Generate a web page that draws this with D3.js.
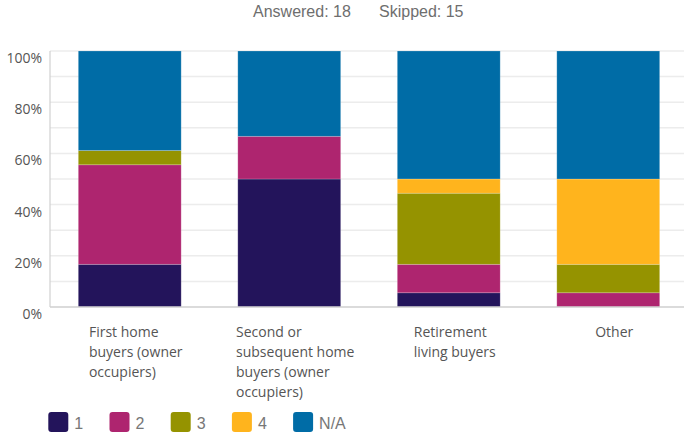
<!DOCTYPE html>
<html>
<head>
<meta charset="utf-8">
<script src="https://cdn.jsdelivr.net/npm/d3@7"></script>
<style>
  html, body { margin: 0; padding: 0; background: #fff; }
  svg { display: block; }
</style>
</head>
<body>
<svg id="chart" width="684" height="434"></svg>
<script>
// Categories (each label split into its display lines)
const categories = [
  "First home buyers (owner occupiers)",
  "Second or subsequent home buyers (owner occupiers)",
  "Retirement living buyers",
  "Other"
];
const categoryLines = [
  ["First home", "buyers (owner", "occupiers)"],
  ["Second or", "subsequent home", "buyers (owner", "occupiers)"],
  ["Retirement", "living buyers"],
  ["Other"]
];

// Rating series, percent of respondents per category
const seriesNames = ["1", "2", "3", "4", "N/A"];
const values1  = [16.67, 50.00,  5.56,  0.00];
const values2  = [38.89, 16.67, 11.11,  5.56];
const values3  = [ 5.56,  0.00, 27.78, 11.11];
const values4  = [ 0.00,  0.00,  5.56, 33.33];
const valuesNA = [38.89, 33.33, 50.00, 50.00];
const seriesColors = ["#23145b", "#ae256f", "#959300", "#ffb41d", "#006ca6"];

const yTicks = [0, 20, 40, 60, 80, 100];
const gridTicks = [0, 10, 20, 30, 40, 50, 60, 70, 80, 90, 100];
const headerText = ["Answered: 18", "Skipped: 15"];

// Build the table for d3.stack
const seriesValues = [values1, values2, values3, values4, valuesNA];
const table = categories.map((c, i) => {
  const row = { category: c };
  seriesNames.forEach((s, k) => { row[s] = seriesValues[k][i]; });
  return row;
});
const stacked = d3.stack().keys(seriesNames)(table);

const svg = d3.select("#chart");
const margin = { left: 50, right: -4, top: 51, bottom: 127 };
const W = 684, H = 434;

const x = d3.scaleBand()
  .domain(categories)
  .range([margin.left, W - margin.right])
  .paddingInner(0.355)
  .paddingOuter(0.1775);

const y = d3.scaleLinear()
  .domain([0, 100])
  .range([H - margin.bottom, margin.top]);

const sans = "'Open Sans', 'Noto Sans', sans-serif";
const arial = "'Liberation Sans', Arial, sans-serif";

// Header
const header = svg.append("text")
  .attr("y", 17)
  .attr("font-family", arial)
  .attr("font-size", 16)
  .attr("fill", "#6e6e6e");
header.append("tspan").attr("x", 253).text(headerText[0]);
header.append("tspan").attr("x", 379).text(headerText[1]);

// Grid lines
svg.append("g")
  .selectAll("line")
  .data(gridTicks.filter(d => d > 0))
  .join("line")
  .attr("x1", margin.left)
  .attr("x2", W)
  .attr("y1", d => y(d))
  .attr("y2", d => y(d))
  .attr("stroke", "#ececec")
  .attr("stroke-width", 1.5);

// Y tick labels
svg.append("g")
  .selectAll("text")
  .data(yTicks)
  .join("text")
  .attr("x", 42)
  .attr("y", d => y(d) + 12)
  .attr("text-anchor", "end")
  .attr("font-family", sans)
  .attr("font-size", 14)
  .attr("fill", "#555")
  .text(d => d + "%");

// Stacked bars
svg.append("g")
  .selectAll("g")
  .data(stacked)
  .join("g")
  .attr("fill", (d, i) => seriesColors[i])
  .selectAll("rect")
  .data(d => d.filter(p => p[1] - p[0] > 0))
  .join("rect")
  .attr("x", d => x(d.data.category))
  .attr("width", x.bandwidth())
  .attr("y", d => y(d[1]))
  .attr("height", d => y(d[0]) - y(d[1]))
  .attr("stroke", "rgba(255,255,255,0.25)")
  .attr("stroke-width", 0.8);

// Axes lines
svg.append("line")
  .attr("x1", margin.left).attr("x2", margin.left)
  .attr("y1", y(100)).attr("y2", y(0))
  .attr("stroke", "#d0d0d0").attr("stroke-width", 1.2);
svg.append("line")
  .attr("x1", margin.left).attr("x2", W)
  .attr("y1", y(0)).attr("y2", y(0))
  .attr("stroke", "#cfcfcf").attr("stroke-width", 1.5);

// Category labels: left-aligned text block centred under each bar
categories.forEach((c, i) => {
  const g = svg.append("text")
    .attr("font-family", sans)
    .attr("font-size", 14)
    .attr("fill", "#555");
  categoryLines[i].forEach((line, j) => {
    g.append("tspan").attr("y", 337 + j * 20).text(line);
  });
  const widths = [];
  g.selectAll("tspan").each(function () { widths.push(this.getComputedTextLength()); });
  const blockW = d3.max(widths);
  const left = x(c) + x.bandwidth() / 2 + 6 - blockW / 2;
  g.selectAll("tspan").attr("x", left);
});

// Legend
const legend = svg.append("g")
  .selectAll("g")
  .data(seriesNames)
  .join("g")
  .attr("transform", (d, i) => `translate(${48.3 + i * 61.2},412)`);
legend.append("rect")
  .attr("width", 20)
  .attr("height", 20)
  .attr("rx", 3)
  .attr("fill", (d, i) => seriesColors[i]);
legend.append("text")
  .attr("x", 26)
  .attr("y", 16.5)
  .attr("font-family", arial)
  .attr("font-size", 16)
  .attr("fill", "#777")
  .text(d => d);
</script>
</body>
</html>
